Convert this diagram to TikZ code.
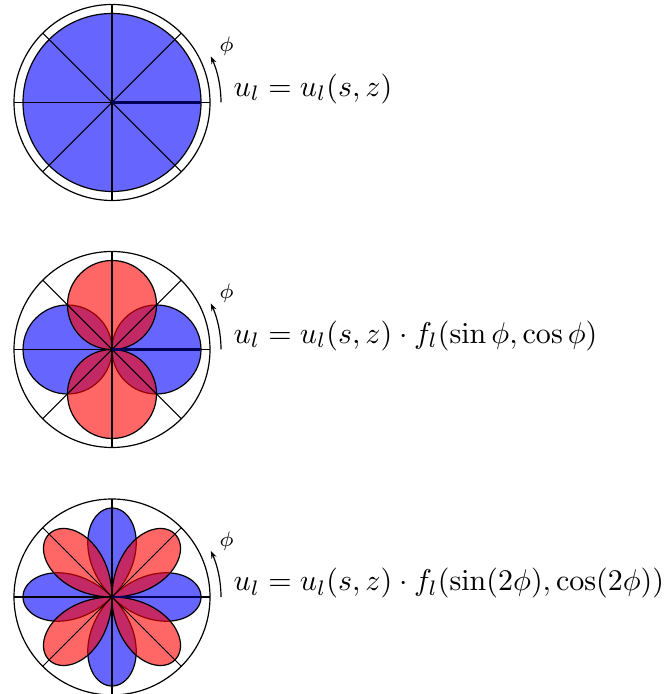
\documentclass[tikz,border=0pt]{standalone}
\usetikzlibrary{arrows.meta}
\begin{document}
\begin{tikzpicture}[
      x=0.3333pt, y=0.3333pt,
      ring/.style={draw=black, line width=0.4pt},
      spoke/.style={draw=black, line width=0.35pt},
      seam/.style={draw=blue!35!black, line width=0.8pt},
      bluelobe/.style={draw=black, fill=blue, fill opacity=0.6, line width=0.4pt},
      redlobe/.style={draw=black, fill=red, fill opacity=0.6, line width=0.4pt},
      phiarrow/.style={-{Stealth[length=2.5pt, width=1.8pt]}, line width=0.4pt},
      philabel/.style={font=\scriptsize, inner sep=0pt},
      eqn/.style={anchor=base west, inner sep=0pt, font=\fontsize{9.6}{12}\selectfont}
    ]
      \useasboundingbox (0,0) rectangle (664,694);

      % top: no angular dependence
      \begin{scope}[shift={(112,591.5)}]
        \draw[ring] (0,0) circle (98);
        \draw[bluelobe] (0,0) circle (89);
        \foreach \a in {0,45,...,315} \draw[spoke] (0,0) -- (\a:98);
        \draw[seam] (0,0) -- (89,0);
        \draw[phiarrow] (0:109) arc[start angle=0, end angle=25, radius=109];
        \node[philabel] (phiTop) at (26:127.5) {$\phi$};
        \node[eqn] (eqTop) at (121,6) {$u_l = u_l(s,z)$};
      \end{scope}

      % middle: sin / cos lobes
      \begin{scope}[shift={(112,344.5)}]
        \draw[ring] (0,0) circle (98);
        \draw[bluelobe] (44.5,0) circle (44.5);
        \draw[bluelobe] (-44.5,0) circle (44.5);
        \draw[redlobe] (0,44.5) circle (44.5);
        \draw[redlobe] (0,-44.5) circle (44.5);
        \foreach \a in {0,45,...,315} \draw[spoke] (0,0) -- (\a:98);
        \draw[seam] (0,0) -- (89,0);
        \draw[phiarrow] (0:109) arc[start angle=0, end angle=25, radius=109];
        \node[philabel] (phiMid) at (26:127.5) {$\phi$};
        \node[eqn] (eqMid) at (121,6) {$u_l = u_l(s,z)\cdot f_l(\sin\phi,\cos\phi)$};
      \end{scope}

      % bottom: sin(2phi) / cos(2phi) petals
      \begin{scope}[shift={(112,97)}]
        \draw[ring] (0,0) circle (98);
        \foreach \b in {0,90,180,270}
          \draw[bluelobe] plot[domain=-45:45, samples=90, smooth] ({\b+\x}:{89*cos(2*\x)}) -- cycle;
        \foreach \b in {45,135,225,315}
          \draw[redlobe] plot[domain=-45:45, samples=90, smooth] ({\b+\x}:{89*cos(2*\x)}) -- cycle;
        \foreach \a in {0,45,...,315} \draw[spoke] (0,0) -- (\a:98);
        \draw[seam] (0,0) -- (89,0);
        \draw[phiarrow] (0:109) arc[start angle=0, end angle=25, radius=109];
        \node[philabel] (phiBot) at (26:127.5) {$\phi$};
        \node[eqn] (eqBot) at (121,6) {$u_l = u_l(s,z)\cdot f_l(\sin(2\phi),\cos(2\phi))$};
      \end{scope}
    \end{tikzpicture}
\end{document}
